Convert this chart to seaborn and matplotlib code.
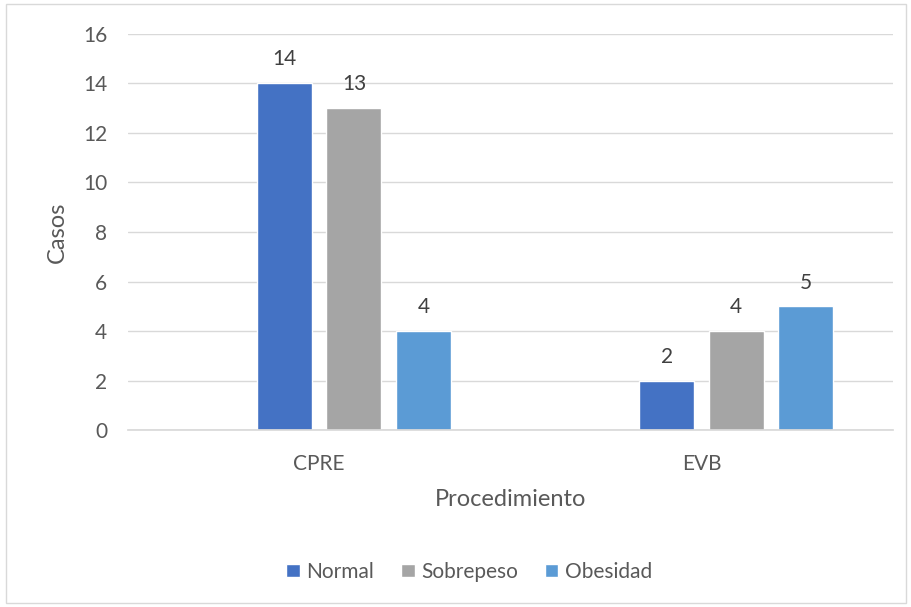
import matplotlib
matplotlib.use("Agg")
import matplotlib.pyplot as plt
import seaborn as sns
import pandas as pd
from matplotlib.patches import Rectangle, Patch

procedimientos = ['CPRE', 'EVB']
grupos = ['Normal', 'Sobrepeso', 'Obesidad']
normal = [14, 2]
sobrepeso = [13, 4]
obesidad = [4, 5]
colores = ['#4472C4', '#A5A5A5', '#5B9BD5']

df = pd.DataFrame({'Procedimiento': procedimientos,
                   'Normal': normal, 'Sobrepeso': sobrepeso, 'Obesidad': obesidad})
largo = df.melt(id_vars='Procedimiento', var_name='Grupo', value_name='Casos')

sns.set_theme(style='white')
plt.rcParams['font.family'] = ['Lato', 'DejaVu Sans']
texto = '#595959'

fig = plt.figure(figsize=(9.11, 6.07), dpi=100)
ax = fig.add_axes([0.1405, 0.2908, 0.8395, 0.654])

# Excel dejó un hueco al inicio de cada grupo (serie vacía)
orden = [' '] + grupos
paleta = dict(zip(orden, ['white'] + colores))
sns.barplot(data=largo, x='Procedimiento', y='Casos', hue='Grupo', hue_order=orden,
            palette=paleta, width=0.727, gap=0.21, saturation=1, errorbar=None,
            legend=False, ax=ax)

for cont in ax.containers:
    ax.bar_label(cont, fmt='%g', padding=10, fontsize=15, color='#404040')

ax.set_xlim(-0.5, 1.5)
ax.set_ylim(0, 16)
ax.set_yticks(range(0, 17, 2))
ax.yaxis.grid(True, color='#D9D9D9', lw=1)
ax.set_axisbelow(True)
for s in ['top', 'right', 'left']:
    ax.spines[s].set_visible(False)
ax.spines['bottom'].set_color('#D9D9D9')
ax.tick_params(axis='both', length=0, labelsize=15, labelcolor=texto)
ax.tick_params(axis='y', pad=15)
ax.tick_params(axis='x', pad=17)
ax.set_xlabel('Procedimiento', fontsize=17, color=texto, labelpad=11)
ax.set_ylabel('Casos', fontsize=17, color=texto, labelpad=11)

handles = [Patch(facecolor=c) for c in colores]
fig.legend(handles, grupos, loc='center', bbox_to_anchor=(0.515, 0.058), ncol=3,
           frameon=False, fontsize=15, labelcolor=texto, handlelength=0.65,
           handleheight=0.65, columnspacing=1.3, handletextpad=0.3)

fig.add_artist(Rectangle((0.007, 0.006), 0.988, 0.987, transform=fig.transFigure,
                         fill=False, edgecolor='#D9D9D9', lw=1))

fig.savefig('out.png', dpi=100)
